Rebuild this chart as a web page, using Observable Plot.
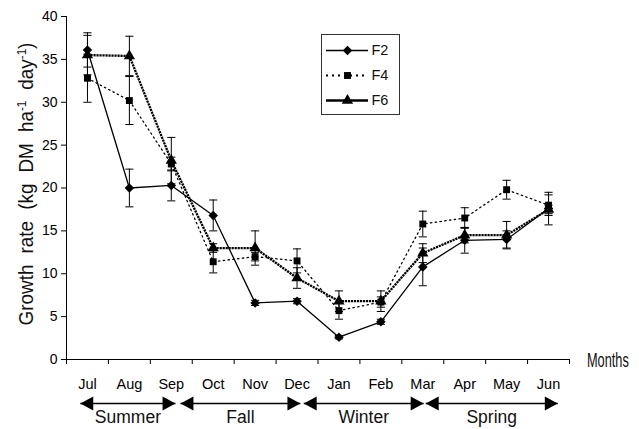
<!DOCTYPE html>
<html><head><meta charset="utf-8">
<script src="https://cdn.jsdelivr.net/npm/d3@7"></script>
<script src="https://cdn.jsdelivr.net/npm/@observablehq/plot@0.6"></script>
<style>
body{margin:0;background:#fff;}
#chart{position:relative;width:639px;height:429px;font-family:"Liberation Sans",Arial,sans-serif;background:#fff;}
#legend{position:absolute;left:321px;top:34px;width:79px;height:81px;box-sizing:border-box;border:1px solid #333;background:#fff;}
svg{display:block}
</style></head><body><div id="chart"><div id="legend"></div></div>
<script>
// ---- data ----
const months = ["Jul","Aug","Sep","Oct","Nov","Dec","Jan","Feb","Mar","Apr","May","Jun"];
const seriesNames = ["F2","F4","F6"];
const f2    = [36.1,20.0,20.3,16.8, 6.6, 6.8, 2.6, 4.4,10.8,13.9,14.0,17.6];
const f2err = [ 2.0, 2.2, 1.8, 1.8, 0.3, 0.3, 0.2, 0.3, 2.2, 1.5, 1.0, 1.9];
const f4    = [32.8,30.2,22.8,11.4,12.0,11.5, 5.7, 6.7,15.8,16.5,19.8,18.0];
const f4err = [ 2.8, 2.8, 0.8, 1.3, 0.5, 1.4, 1.0, 0.6, 1.5, 1.2, 1.1, 1.2];
const f6    = [35.5,35.4,23.2,13.0,13.0, 9.5, 6.8, 6.8,12.4,14.5,14.5,17.5];
const f6err = [ 2.3, 2.3, 2.7, 0.5, 2.0, 1.2, 1.2, 1.2, 1.1, 0.9, 1.6, 0.5];
const yTicks = [0,5,10,15,20,25,30,35,40];
const seasons = ["Summer","Fall","Winter","Spring"];
const seasonStart = [0.33, 2.72, 5.66, 8.57];   // in month units along the axis
const seasonEnd   = [2.60, 5.58, 8.52, 11.72];

// ---- build table ----
const values = [f2, f4, f6];
const errs = [f2err, f4err, f6err];
const table = seriesNames.flatMap((s, k) => months.map((m, i) => ({
  series: s, month: m, x: i + 0.5, y: values[k][i],
  lo: values[k][i] - errs[k][i], hi: values[k][i] + errs[k][i]
})));
const seasonRows = seasons.map((s, i) => ({name: s, start: seasonStart[i], end: seasonEnd[i], mid: (seasonStart[i] + seasonEnd[i]) / 2}));

// ---- styles ----
const style = {
  F2: {strokeWidth: 1.3, dash: null, symbol: "diamond2", r: 4.3},
  F4: {strokeWidth: 1.3, dash: "1.4,3.4", symbol: "square", r: 3.9},
  F6: {strokeWidth: 2.3, dash: "2.2,0.8", symbol: "triangle", r: 4.2}
};
const cap = {draw(ctx, size) { const w = Math.sqrt(size); ctx.moveTo(-w, 0); ctx.lineTo(w, 0); }};
const triRight = {draw(ctx, size) { const h = Math.sqrt(size); ctx.moveTo(0, 0); ctx.lineTo(-h, -h * 0.55); ctx.lineTo(-h, h * 0.55); ctx.closePath(); }};
const triLeft = {draw(ctx, size) { const h = Math.sqrt(size); ctx.moveTo(0, 0); ctx.lineTo(h, -h * 0.55); ctx.lineTo(h, h * 0.55); ctx.closePath(); }};
const font = '"Liberation Sans",Arial,sans-serif';

// ---- main plot ----
const marks = [
  Plot.ruleX([0], {stroke: "black", strokeWidth: 1}),
  Plot.ruleY([0], {stroke: "black", strokeWidth: 1}),
  Plot.axisY({ticks: yTicks, tickSize: 5, tickPadding: 4, label: null, fontSize: 14, stroke: "black"}),
  Plot.axisX({ticks: d3.range(months.length + 1), tickSize: 5, tickFormat: () => "", label: null, stroke: "black"}),
  Plot.axisX({ticks: months.map((m, i) => i + 0.5), tickSize: 0, tickPadding: 19, tickFormat: d => months[Math.floor(d)], label: null, fontSize: 14.5}),
  // error bars
  Plot.ruleX(table, {x: "x", y1: "lo", y2: "hi", stroke: "black", strokeWidth: 1}),
  Plot.dot(table, {x: "x", y: "hi", symbol: cap, r: 2.3, stroke: "black", fill: "none", strokeWidth: 1}),
  Plot.dot(table, {x: "x", y: "lo", symbol: cap, r: 2.3, stroke: "black", fill: "none", strokeWidth: 1})
];
for (const s of seriesNames) {
  const st = style[s];
  const data = table.filter(d => d.series === s);
  marks.push(Plot.line(data, {x: "x", y: "y", stroke: "black", strokeWidth: st.strokeWidth, strokeDasharray: st.dash, strokeLinecap: s === "F4" ? "round" : "butt"}));
}
for (const s of seriesNames) {
  const st = style[s];
  const data = table.filter(d => d.series === s);
  marks.push(Plot.dot(data, {x: "x", y: "y", symbol: st.symbol, r: st.r, fill: "black", stroke: "none"}));
}
const main = Plot.plot({
  width: 639, height: 393,
  marginTop: 16, marginBottom: 34, marginLeft: 66, marginRight: 70,
  x: {domain: [0, months.length], axis: null},
  y: {domain: [0, 40], axis: null},
  style: {fontFamily: font, fontSize: "14px", color: "black", background: "white"},
  marks
});
const chart = document.getElementById("chart");
chart.insertBefore(main, chart.firstChild);

// y-axis title with superscripts
const svg = d3.select(main);
const yl = svg.append("text")
  .attr("text-anchor", "middle")
  .attr("font-family", font).attr("font-size", 19.5).attr("fill", "#111")
  .attr("word-spacing", 6);
yl.append("tspan").text("Growth rate (kg DM ha");
yl.append("tspan").attr("dy", -7).attr("font-size", 12).text("-1");
yl.append("tspan").attr("dy", 7).text(" day");
yl.append("tspan").attr("dy", -7).attr("font-size", 12).text("-1");
yl.append("tspan").attr("dy", 7).text(")");
const ylLen = yl.node().getBBox().width;
yl.attr("transform", `translate(33,184) rotate(-90) scale(${283 / ylLen},1)`);

// "Months" label
const ml = svg.append("text").attr("text-anchor", "start").attr("font-family", font).attr("font-size", 19.5).attr("fill", "#111").text("Months");
const mlLen = ml.node().getBBox().width;
ml.attr("transform", `translate(587,367) scale(${42 / mlLen},1)`);

// ---- seasons row ----
const seasonPlot = Plot.plot({
  width: 639, height: 36,
  marginTop: 0, marginBottom: 0, marginLeft: 66, marginRight: 70,
  x: {domain: [0, months.length], axis: null},
  y: {type: "point", domain: ["arrow", "label"], range: [10, 24], padding: 0, axis: null},
  style: {fontFamily: font, background: "white"},
  marks: [
    Plot.link(seasonRows, {x1: "start", x2: "end", y1: () => "arrow", y2: () => "arrow", stroke: "black", strokeWidth: 1.3}),
    Plot.dot(seasonRows, {x: "end", y: () => "arrow", symbol: triRight, r: 7.3, fill: "black", stroke: "none"}),
    Plot.dot(seasonRows, {x: "start", y: () => "arrow", symbol: triLeft, r: 7.3, fill: "black", stroke: "none"}),
    Plot.text(seasonRows, {x: "mid", y: () => "label", text: "name", fontSize: 17.5, fill: "#111"})
  ]
});
chart.insertBefore(seasonPlot, document.getElementById("legend"));

// ---- legend ----
const legend = Plot.plot({
  width: 77, height: 79,
  marginTop: 1, marginBottom: 1, marginLeft: 4, marginRight: 31,
  x: {domain: [0, 1], axis: null},
  y: {type: "point", domain: seriesNames, padding: 0.5, axis: null},
  style: {fontFamily: font, background: "white"},
  marks: [
    ...seriesNames.map(s => Plot.ruleY([s], {y: d => d, x1: 0, x2: 1, stroke: "black", strokeWidth: s === "F4" ? 2 : style[s].strokeWidth, strokeDasharray: s === "F4" ? "2,4" : null})),
    ...seriesNames.map(s => Plot.dot([s], {x: 0.5, y: d => d, symbol: style[s].symbol, r: style[s].r, fill: "black"})),
    Plot.text(seriesNames, {x: 1, y: d => d, text: d => d, dx: 3, textAnchor: "start", fontSize: 14.5, fill: "#111"})
  ]
});
document.getElementById("legend").appendChild(legend);
</script>
</body></html>
